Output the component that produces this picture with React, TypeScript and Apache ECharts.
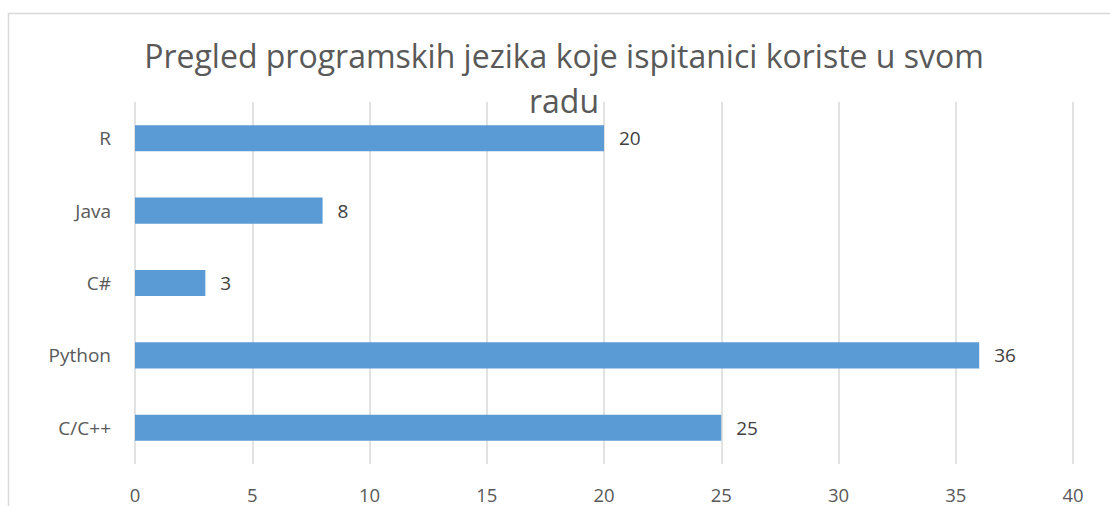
import React, { useEffect, useRef } from "react";
import * as echarts from "echarts";

const categories = ["C/C++", "Python", "C#", "Java", "R"];
const values = [25, 36, 3, 8, 20];
const titleLines = ["Pregled programskih jezika koje ispitanici koriste u svom", "radu"];
const FONT = "'Open Sans', sans-serif";

export default function App() {
  const ref = useRef<HTMLDivElement>(null);
  useEffect(() => {
    document.body.style.margin = "0";
    const chart = echarts.init(ref.current!, null, { renderer: "svg" });
    chart.setOption({
      animation: false,
      backgroundColor: "#ffffff",
      grid: { left: 135, right: 37, top: 102, bottom: 42, containLabel: false },
      xAxis: {
        type: "value",
        min: 0,
        max: 40,
        interval: 5,
        axisLine: { show: false },
        axisTick: { show: false },
        splitLine: { show: true, lineStyle: { color: "#d9d9d9", width: 1.5 } },
        axisLabel: { color: "#595959", fontSize: 18.5, lineHeight: 17, fontFamily: FONT, margin: 22 },
      },
      yAxis: {
        type: "category",
        data: categories,
        axisLine: { show: false },
        axisTick: { show: false },
        axisLabel: { color: "#595959", fontSize: 19, fontFamily: FONT, margin: 24 },
      },
      series: [
        {
          type: "bar",
          data: values,
          barWidth: "36%",
          itemStyle: { color: "#5b9bd5" },
          label: {
            show: true,
            position: "right",
            distance: 15,
            color: "#404040",
            fontSize: 19,
            fontFamily: FONT,
          },
        },
      ],
      graphic: [
        {
          type: "rect",
          shape: { x: 8.5, y: 13.5, width: 1300, height: 700 },
          style: { fill: "none", stroke: "#d9d9d9", lineWidth: 1.5 },
          silent: true,
        },
        {
          type: "text",
          x: 564,
          y: 33,
          style: {
            text: titleLines.join("\n"),
            fill: "#595959",
            font: `32px ${FONT}`,
            textAlign: "center",
            textVerticalAlign: "top",
            lineHeight: 45,
          },
          silent: true,
        },
      ],
    });
    return () => chart.dispose();
  }, []);
  return <div ref={ref} style={{ width: 1110, height: 506 }} />;
}
